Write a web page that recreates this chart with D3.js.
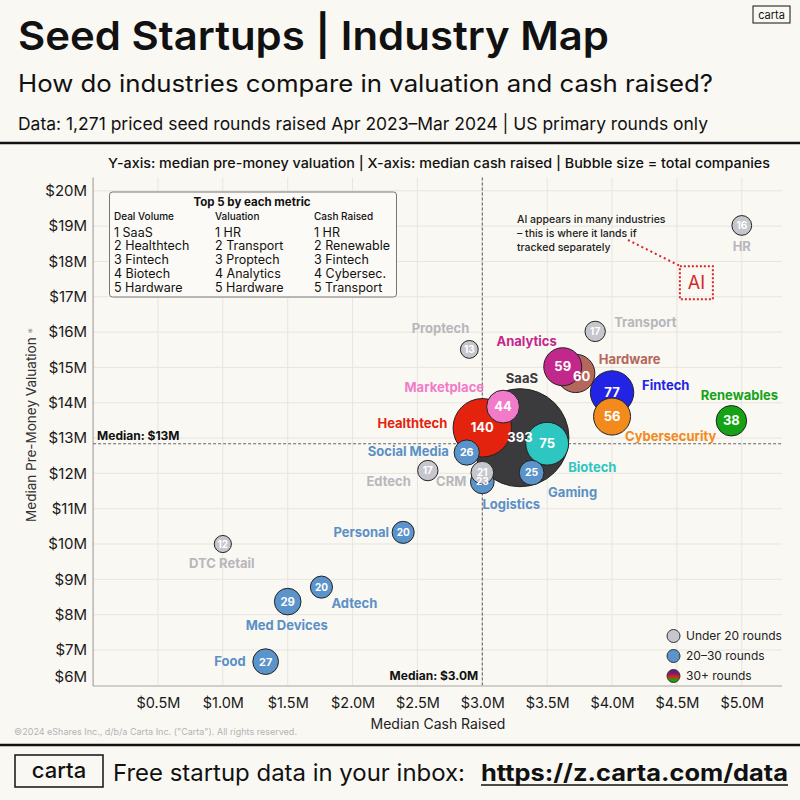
<!DOCTYPE html>
<html><head><meta charset="utf-8">
<script src="https://cdn.jsdelivr.net/npm/d3@7"></script>
<style>body{margin:0;background:#faf8f3}svg{display:block;font-family:Inter,"Noto Sans",sans-serif}</style>
</head><body><svg id="c" width="800" height="800"></svg>
<script>
// ---------------- DATA ----------------
const industries = ["SaaS","Healthtech","Fintech","Biotech","Hardware","Analytics","Cybersecurity","Marketplace","Renewables","Social Media","Food","Med Devices","Gaming","Logistics","CRM","Personal","Adtech","Transport","Edtech","HR","Proptech","DTC Retail"];
const cashRaised = [3.29,3.0,4.0,3.5,3.72,3.62,4.0,3.16,4.92,2.88,1.33,1.5,3.38,3.0,3.0,2.39,1.76,3.87,2.58,5.0,2.9,1.0];
const valuation = [13.01,13.29,14.29,12.84,14.83,15.02,13.61,13.89,13.49,12.59,6.67,8.37,12.02,11.76,12.02,10.33,8.78,16.02,12.08,19.02,15.51,10.0];
const companies = [393,140,77,75,60,59,56,44,38,26,27,29,25,23,21,20,20,17,17,16,13,12];
const tiers = ["30+","30+","30+","30+","30+","30+","30+","30+","30+","20-30","20-30","20-30","20-30","20-30","<20","20-30","20-30","<20","<20","<20","<20","<20"];

const xTicks = [0.5,1.0,1.5,2.0,2.5,3.0,3.5,4.0,4.5,5.0];
const xTickLabels = ["$0.5M","$1.0M","$1.5M","$2.0M","$2.5M","$3.0M","$3.5M","$4.0M","$4.5M","$5.0M"];
const yTicks = [6,7,8,9,10,11,12,13,14,15,16,17,18,19,20];
const yTickLabels = ["$6M","$7M","$8M","$9M","$10M","$11M","$12M","$13M","$14M","$15M","$16M","$17M","$18M","$19M","$20M"];

const medianCash = 3.0;
const medianValuation = 12.84;
const aiCash = 4.65;
const aiValuation = 17.4;

const top5Deal = ["SaaS","Healthtech","Fintech","Biotech","Hardware"];
const top5Valuation = ["HR","Transport","Proptech","Analytics","Hardware"];
const top5Cash = ["HR","Renewable","Fintech","Cybersec.","Transport"];

const legendLabels = ["Under 20 rounds","20–30 rounds","30+ rounds"];

// ---------------- STYLE / LAYOUT ----------------
const colors = {
  "SaaS":"#3b3b3d","Healthtech":"#e3230e","Fintech":"#2323e6","Biotech":"#2ec6c1","Hardware":"#b4675b",
  "Analytics":"#c2288b","Cybersecurity":"#f28a1c","Marketplace":"#f27bc9","Renewables":"#15a315"
};
const blueFill = "#5b94ca", blueLabel = "#5b90c6";
const greyFill = "#c6c6cd", greyLabel = "#b7b7bc";
// label offsets relative to bubble center: [dx, dy, anchor]
const labelPos = {
  "SaaS":[2,-59,"middle"],"Healthtech":[-35,-4,"end"],"Fintech":[30,-7,"start"],"Biotech":[21,24,"start"],
  "Hardware":[23,-14,"start"],"Analytics":[-6,-25,"end"],"Cybersecurity":[13,20,"start"],"Marketplace":[-19,-19,"end"],
  "Renewables":[8,-25,"middle"],"Social Media":[-18,-1,"end"],"Food":[-20,0,"end"],"Med Devices":[-1,24,"middle"],
  "Gaming":[41,20,"middle"],"Logistics":[29,22,"middle"],"CRM":[-16,9,"end"],"Personal":[-14,0,"end"],
  "Adtech":[10,16,"start"],"Transport":[19,-9,"start"],"Edtech":[-17,11,"end"],"HR":[0,21,"middle"],
  "Proptech":[0,-21,"end"],"DTC Retail":[-1,19,"middle"]
};
const numOffset = {"Hardware":[6,3]};

const svg = d3.select("#c");
svg.append("rect").attr("width",800).attr("height",800).attr("fill","#faf8f3");

const defs = svg.append("defs");
const grad = defs.append("linearGradient").attr("id","g30").attr("x1",0).attr("y1",0).attr("x2",0).attr("y2",1);
grad.append("stop").attr("offset","0%").attr("stop-color","#5b1a9e");
grad.append("stop").attr("offset","30%").attr("stop-color","#7a1a70");
grad.append("stop").attr("offset","55%").attr("stop-color","#e3230e");
grad.append("stop").attr("offset","80%").attr("stop-color","#15a315");
grad.append("stop").attr("offset","100%").attr("stop-color","#15a315");

const plotL = 93.1, plotR = 782, plotT = 177.4, plotB = 685.3;
const x = d3.scaleLinear().domain([0,5.31]).range([plotL,plotR]);
const y = d3.scaleLinear().domain([6,20.38]).range([plotB,plotT]);
const r = d3.scaleSqrt().domain([0,393]).range([0,49]);

// ---------- header ----------
svg.append("text").attr("x",18).attr("y",50).attr("font-size",40).attr("font-weight",600)
  .attr("fill","#111").attr("textLength",591).attr("lengthAdjust","spacingAndGlyphs")
  .text("Seed Startups | Industry Map");
svg.append("text").attr("x",18).attr("y",92).attr("font-size",24).attr("font-weight",400)
  .attr("fill","#111").attr("textLength",695).attr("lengthAdjust","spacingAndGlyphs")
  .text("How do industries compare in valuation and cash raised?");
svg.append("text").attr("x",18).attr("y",130).attr("font-size",17.5).attr("font-weight",400)
  .attr("fill","#111").attr("textLength",690).attr("lengthAdjust","spacingAndGlyphs")
  .text("Data: 1,271 priced seed rounds raised Apr 2023–Mar 2024 | US primary rounds only");
svg.append("line").attr("x1",0).attr("x2",800).attr("y1",143).attr("y2",143).attr("stroke","#111").attr("stroke-width",2.5);
svg.append("rect").attr("x",753).attr("y",6).attr("width",37).attr("height",17).attr("fill","none").attr("stroke","#111").attr("stroke-width",1);
svg.append("text").attr("x",771.5).attr("y",18.5).attr("text-anchor","middle").attr("font-size",11).attr("fill","#111").text("carta");

svg.append("text").attr("x",108).attr("y",168).attr("font-size",13.5).attr("font-weight",500)
  .attr("fill","#111").attr("textLength",662).attr("lengthAdjust","spacingAndGlyphs")
  .text("Y-axis: median pre-money valuation | X-axis: median cash raised | Bubble size = total companies");

// ---------- grid ----------
const g = svg.append("g");
g.selectAll(".hg").data(yTicks.filter(d=>d>6)).join("line")
  .attr("x1",plotL).attr("x2",plotR).attr("y1",d=>y(d)).attr("y2",d=>y(d))
  .attr("stroke","#e8e5de").attr("stroke-width",1);
g.selectAll(".vg").data(xTicks).join("line")
  .attr("y1",plotT).attr("y2",plotB).attr("x1",d=>x(d)).attr("x2",d=>x(d))
  .attr("stroke","#e8e5de").attr("stroke-width",1);
g.append("line").attr("x1",plotL).attr("x2",plotL).attr("y1",plotT).attr("y2",plotB+0.7).attr("stroke","#a5a5a5").attr("stroke-width",1.2);
g.append("line").attr("x1",plotL).attr("x2",plotR).attr("y1",plotB+0.7).attr("y2",plotB+0.7).attr("stroke","#a5a5a5").attr("stroke-width",1.2);

// axis tick labels
const yAxis = d3.axisLeft(y).tickValues(yTicks).tickFormat((d,i)=>yTickLabels[i]).tickSize(0).tickPadding(6);
const ya = svg.append("g").attr("transform",`translate(${plotL},0)`).call(yAxis);
ya.select(".domain").remove();
ya.selectAll("text").attr("font-size",15).attr("fill","#1a1a1a").attr("font-family","Inter,sans-serif")
  .attr("dy",(d)=> d===6 ? "-0.25em" : "0.32em");
const xAxis = d3.axisBottom(x).tickValues(xTicks).tickFormat((d,i)=>xTickLabels[i]).tickSize(0).tickPadding(12);
const xa = svg.append("g").attr("transform",`translate(0,${plotB})`).call(xAxis);
xa.select(".domain").remove();
xa.selectAll("text").attr("font-size",14.5).attr("fill","#1a1a1a").attr("font-family","Inter,sans-serif");

svg.append("text").attr("x",438).attr("y",729).attr("text-anchor","middle").attr("font-size",14).attr("fill","#222").text("Median Cash Raised");
const yt = svg.append("text").attr("transform","translate(36,425) rotate(-90)").attr("text-anchor","middle").attr("font-size",13.5).attr("fill","#333");
yt.append("tspan").text("Median Pre-Money Valuation ");
yt.append("tspan").attr("fill","#999").attr("font-size",11).text("*");
svg.append("text").attr("x",14).attr("y",735).attr("font-size",9).attr("fill","#b3b3b3").text("©2024 eShares Inc., d/b/a Carta Inc. (\"Carta\"). All rights reserved.");

// ---------- medians ----------
svg.append("line").attr("x1",plotL).attr("x2",plotR).attr("y1",y(medianValuation)).attr("y2",y(medianValuation))
  .attr("stroke","#666").attr("stroke-width",1.1).attr("stroke-dasharray","3,2");
svg.append("line").attr("x1",x(medianCash)).attr("x2",x(medianCash)).attr("y1",plotT).attr("y2",plotB)
  .attr("stroke","#666").attr("stroke-width",1.1).attr("stroke-dasharray","3,2");
svg.append("text").attr("x",plotL+4).attr("y",y(medianValuation)-4).attr("font-size",12).attr("font-weight",700).attr("fill","#111").text("Median: $13M");
svg.append("text").attr("x",x(medianCash)-4).attr("y",plotB-5).attr("text-anchor","end").attr("font-size",12).attr("font-weight",700).attr("fill","#111").text("Median: $3.0M");

// ---------- top 5 box ----------
const bx = svg.append("g");
bx.append("rect").attr("x",109.5).attr("y",192).attr("width",287).attr("height",105).attr("rx",3)
  .attr("fill","#fbfaf6").attr("stroke","#777").attr("stroke-width",1);
bx.append("text").attr("x",252).attr("y",206).attr("text-anchor","middle").attr("font-size",11.5).attr("font-weight",700).attr("fill","#111").text("Top 5 by each metric");
const cols = [[114,"Deal Volume",top5Deal],[215,"Valuation",top5Valuation],[314,"Cash Raised",top5Cash]];
cols.forEach(([cx,head,list])=>{
  bx.append("text").attr("x",cx).attr("y",219.5).attr("font-size",10).attr("font-weight",500).attr("fill","#111").text(head);
  bx.selectAll(null).data(list).join("text").attr("x",cx).attr("y",(d,i)=>236.5+i*13.9)
    .attr("font-size",12.5).attr("fill","#111").text((d,i)=>`${i+1} ${d}`);
});

// ---------- bubbles ----------
const data = industries.map((name,i)=>({name,cash:cashRaised[i],val:valuation[i],n:companies[i],tier:tiers[i]}));
const fillOf = d => d.tier==="30+" ? colors[d.name] : d.tier==="20-30" ? blueFill : greyFill;
const labelColOf = d => d.tier==="30+" ? colors[d.name] : d.tier==="20-30" ? blueLabel : greyLabel;
const sorted = data.slice().sort((a,b)=>b.n-a.n);
svg.append("g").selectAll("circle").data(sorted).join("circle")
  .attr("cx",d=>x(d.cash)).attr("cy",d=>y(d.val))
  .attr("r",d=>r(d.n)).attr("fill",fillOf).attr("stroke","#222").attr("stroke-width",1);
svg.append("g").selectAll("text").data(sorted).join("text")
  .attr("x",d=>x(d.cash)+(numOffset[d.name]?numOffset[d.name][0]:0))
  .attr("y",d=>y(d.val)+(numOffset[d.name]?numOffset[d.name][1]:0))
  .attr("text-anchor","middle").attr("dy","0.36em").attr("fill","#fff").attr("font-weight",700)
  .attr("font-size",d=>Math.max(10,Math.min(13,r(d.n)*0.85))).text(d=>d.n);

svg.append("g").selectAll("text").data(data).join("text")
  .attr("x",d=>x(d.cash)+labelPos[d.name][0]).attr("y",d=>y(d.val)+labelPos[d.name][1])
  .attr("text-anchor",d=>labelPos[d.name][2]).attr("dy","0.36em")
  .attr("font-size",13).attr("font-weight",700).attr("fill",labelColOf).text(d=>d.name);

// ---------- AI annotation ----------
const ax = x(aiCash), ay = y(aiValuation);
svg.append("line").attr("x1",628).attr("y1",240).attr("x2",ax-17).attr("y2",ay-17)
  .attr("stroke","#d7262b").attr("stroke-width",2).attr("stroke-dasharray","2,3");
svg.append("rect").attr("x",ax-16.5).attr("y",ay-16.5).attr("width",33).attr("height",33)
  .attr("fill","none").attr("stroke","#d7262b").attr("stroke-width",2).attr("stroke-dasharray","2,2");
svg.append("text").attr("x",ax).attr("y",ay).attr("dy","0.36em").attr("text-anchor","middle").attr("font-size",18).attr("fill","#d7262b").text("AI");
const note = ["AI appears in many industries","– this is where it lands if","tracked separately"];
svg.append("g").selectAll("text").data(note).join("text").attr("x",517).attr("y",(d,i)=>223+i*14)
  .attr("font-size",10.5).attr("font-weight",500).attr("fill","#222").text(d=>d);

// ---------- legend ----------
const lg = svg.append("g");
const legendFills = [greyFill, blueFill, "url(#g30)"];
legendLabels.forEach((t,i)=>{
  lg.append("circle").attr("cx",673.5).attr("cy",636+i*20).attr("r",6.5).attr("fill",legendFills[i]).attr("stroke","#333").attr("stroke-width",1);
  lg.append("text").attr("x",686).attr("y",636+i*20).attr("dy","0.36em").attr("font-size",12).attr("fill","#222").text(t);
});

// ---------- footer ----------
svg.append("line").attr("x1",0).attr("x2",800).attr("y1",745).attr("y2",745).attr("stroke","#111").attr("stroke-width",2.5);
svg.append("rect").attr("x",15).attr("y",755).attr("width",88).attr("height",32).attr("fill","none").attr("stroke","#111").attr("stroke-width",1.5);
svg.append("text").attr("x",59).attr("y",778).attr("text-anchor","middle").attr("font-size",22).attr("font-weight",500).attr("fill","#111").text("carta");
svg.append("text").attr("x",113).attr("y",781).attr("font-size",23).attr("fill","#111")
  .attr("textLength",352).attr("lengthAdjust","spacingAndGlyphs").text("Free startup data in your inbox:");
svg.append("text").attr("x",481).attr("y",781).attr("font-size",23).attr("font-weight",700).attr("fill","#111")
  .attr("textLength",307).attr("lengthAdjust","spacingAndGlyphs").text("https://z.carta.com/data");
svg.append("line").attr("x1",481).attr("x2",788).attr("y1",785).attr("y2",785).attr("stroke","#111").attr("stroke-width",1.5);
</script></body></html>
